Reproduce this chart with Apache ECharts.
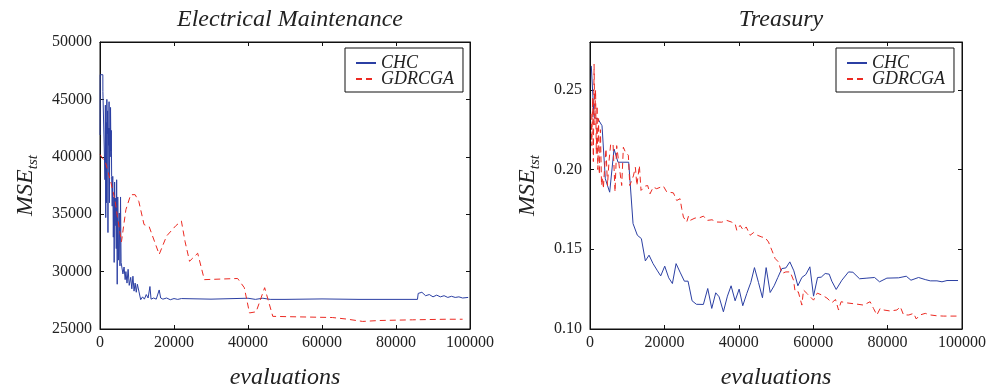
<!DOCTYPE html>
<html>
<head>
<meta charset="utf-8">
<script src="https://cdn.jsdelivr.net/npm/echarts@6/dist/echarts.min.js"></script>
<style>html,body{margin:0;padding:0;background:#fff;}#c{width:1000px;height:389px;}</style>
</head>
<body>
<div id="c"></div>
<script>
// ---- data ----
const titles = ['Electrical Maintenance', 'Treasury'];
const seriesNames = ['CHC', 'GDRCGA'];
const xTicksMax = 100000;

const chcElecX = [0,50,770,780,1300,1350,1450,1550,1650,1750,1850,1950,2050,2150,2250,2350,2450,2550,2650,2750,2850,2950,3050,3150,3300,3450,3600,3750,3830,3950,4100,4250,4400,4500,4650,4800,5000,5200,5400,5550,5700,5990,6200,6500,6800,7000,7300,7600,7900,8300,8600,8900,9200,9500,9800,10100,10500,11000,11500,12000,12500,13000,13500,13800,14500,15200,16000,16400,17000,18000,19000,20000,21000,22000,30000,40000,42000,44000,46000,50000,60000,70000,80000,85800,86000,87000,88000,89000,90000,91000,92000,93000,94000,95000,96000,97000,98000,99500];
const chcElecY = [41900,47150,47150,45700,45700,38000,44500,34700,43000,36000,45000,42000,44000,33400,42500,41000,44800,36000,42500,40000,44300,40500,42300,38300,35700,38300,33000,36500,30800,37800,34000,36400,32000,38000,28900,36500,31000,35100,30500,36500,30800,30800,29800,30400,29300,30000,29000,30200,28800,29500,28500,29600,28300,29000,28200,28900,28300,27550,27800,27600,28000,27700,28700,27600,27700,27600,28400,27700,27600,27700,27550,27650,27580,27650,27600,27680,27580,27680,27580,27580,27620,27580,27580,27580,28100,28200,27900,28000,27800,27950,27800,27900,27750,27850,27750,27800,27700,27750];

const gdrElecX = [0,1500,3000,4000,4700,5800,7000,8300,9500,10500,11900,13300,14200,16000,18000,20500,22000,23000,24200,26400,28200,37200,39000,40400,42200,44500,46700,62800,66500,71000,75500,84500,93500,98000];
const gdrElecY = [40200,39500,37700,36300,34800,32600,35400,36700,36700,36100,34100,33900,33100,31500,33100,34000,34400,32600,30900,31600,29300,29400,28600,26400,26500,28600,26100,26000,25870,25660,25740,25800,25850,25850];

const chcTreaX = [350,1080,2150,3230,4120,5290,6460,7530,10400,11570,12730,13810,14880,15870,16950,18030,19010,20090,21160,22150,23140,24300,25370,26360,27440,28600,30480,31650,32730,33800,34700,35860,36940,37930,39010,40090,41070,42150,43230,44210,45290,46360,47350,48430,49500,50490,51570,52650,53720,54800,55880,56950,58030,59110,60090,61170,62150,63220,64300,65000,66180,67710,69500,70670,72460,74440,76500,77830,79810,82950,85020,86280,88320,90120,91470,93270,94620,95970,98930];
const chcTreaY = [0.265,0.2327,0.2317,0.2275,0.1942,0.1858,0.2129,0.2046,0.2046,0.1661,0.1588,0.1567,0.1427,0.1463,0.1410,0.1369,0.1333,0.1394,0.1321,0.1285,0.1410,0.1352,0.1300,0.1300,0.1177,0.1155,0.1154,0.1254,0.1129,0.1227,0.1202,0.1108,0.1206,0.1271,0.1177,0.1250,0.1146,0.1223,0.1292,0.1385,0.1292,0.1196,0.1385,0.1229,0.1271,0.1323,0.1379,0.1383,0.1421,0.1365,0.1271,0.1323,0.1342,0.1390,0.1206,0.1323,0.1325,0.1348,0.1344,0.1300,0.1248,0.1306,0.1358,0.1356,0.1315,0.1319,0.1323,0.1296,0.1319,0.1321,0.1331,0.1306,0.1323,0.1310,0.1302,0.1302,0.1296,0.1304,0.1304];

const gdrTreaX = [300,500,700,900,1100,1300,1500,1700,1900,2100,2300,2500,2800,3100,3400,3590,3900,4300,4700,5100,5560,6200,6730,7170,7700,8520,8970,9500,10310,10700,11660,12200,12600,13270,13720,14800,15500,16140,17000,17930,19000,19720,20620,22410,23310,24210,24660,25110,26000,26450,26900,28250,29300,30490,31500,32800,34080,35400,36770,38000,39010,39460,40350,41200,42000,43040,44000,45000,46190,47080,47980,48880,49770,50670,51570,52650,53810,54710,55150,56000,56950,57400,58500,60090,61100,62330,63700,65020,66000,66810,67500,69300,71750,73500,75300,76210,77120,78000,79000,80710,82500,83400,84300,85700,87000,87700,88700,90120,91500,93200,95000,98660];
const gdrTreaY = [0.235,0.215,0.245,0.205,0.266,0.228,0.250,0.210,0.240,0.200,0.232,0.197,0.225,0.190,0.195,0.188,0.200,0.213,0.190,0.205,0.216,0.216,0.186,0.215,0.205,0.190,0.214,0.211,0.209,0.190,0.196,0.2014,0.190,0.2025,0.1869,0.1896,0.1900,0.1848,0.1890,0.1880,0.1890,0.1896,0.1860,0.1854,0.1806,0.1817,0.1754,0.1702,0.1671,0.1706,0.1681,0.1696,0.1696,0.1708,0.1681,0.1685,0.1671,0.1670,0.1681,0.1671,0.1660,0.1619,0.1650,0.1620,0.1640,0.1588,0.1605,0.1588,0.1577,0.1573,0.1546,0.1494,0.1442,0.1420,0.1348,0.1358,0.1358,0.1306,0.1233,0.1233,0.1150,0.1244,0.1219,0.1181,0.1225,0.1213,0.1194,0.1165,0.1185,0.1119,0.1171,0.1163,0.1156,0.1150,0.1171,0.1129,0.1088,0.1129,0.1119,0.1113,0.1119,0.1140,0.1088,0.1088,0.1098,0.1063,0.1088,0.1098,0.1088,0.1083,0.1081,0.1081];

// ---- chart ----
const zip = (xs, ys) => xs.map((x, i) => [x, ys[i]]);
const FONT = 'Liberation Serif';
const TXT = '#222';
const BLUE = '#2b3fa3';
const RED = '#ec2a22';

function xAx(grid, top) {
  return {
    type: 'value', gridIndex: grid, position: top ? 'top' : 'bottom',
    min: 0, max: xTicksMax, interval: 20000,
    axisLine: { show: true, onZero: false, lineStyle: { color: '#111', width: 1 } },
    axisTick: { show: true, inside: true, length: 4, lineStyle: { color: '#111' } },
    axisLabel: { show: !top, margin: 6, fontFamily: FONT, fontSize: 16, color: TXT, formatter: v => String(v) },
    splitLine: { show: false },
    name: top ? '' : 'evaluations', nameLocation: 'middle', nameGap: 37,
    nameTextStyle: { fontFamily: FONT, fontStyle: 'italic', fontSize: 24, color: TXT }
  };
}
function yAx(grid, right, min, max, interval, fmt, showMax, gap) {
  return {
    type: 'value', gridIndex: grid, position: right ? 'right' : 'left',
    min: min, max: max, interval: interval,
    axisLine: { show: true, onZero: false, lineStyle: { color: '#111', width: 1 } },
    axisTick: { show: true, inside: true, length: 4, lineStyle: { color: '#111' } },
    axisLabel: { show: !right, margin: 8, fontFamily: FONT, fontSize: 16, color: TXT, showMaxLabel: showMax, formatter: fmt },
    splitLine: { show: false },
    name: right ? '' : '{m|MSE}{s|tst}', nameLocation: 'middle', nameGap: gap, nameRotate: 90,
    nameTextStyle: {
      rich: {
        m: { fontFamily: FONT, fontStyle: 'italic', fontSize: 24, color: TXT, lineHeight: 22, verticalAlign: 'top' },
        s: { fontFamily: FONT, fontStyle: 'italic', fontSize: 15, color: TXT, lineHeight: 14, padding: [12, 0, 0, 0], verticalAlign: 'top' }
      }
    }
  };
}
function legend(left, top, names) {
  return {
    orient: 'vertical', left: left, top: top,
    data: names,
    backgroundColor: '#fff', borderColor: '#111', borderWidth: 1,
    padding: [6, 9, 4, 10], itemGap: -2, itemWidth: 20, itemHeight: 14,
    itemStyle: { color: 'transparent', borderColor: 'transparent', borderWidth: 0, opacity: 0 },
    textStyle: { fontFamily: FONT, fontStyle: 'italic', fontSize: 18, color: TXT, lineHeight: 16 }
  };
}
function line(name, data, xi, yi, color, dashed) {
  return {
    type: 'line', name: name, data: data, xAxisIndex: xi, yAxisIndex: yi,
    showSymbol: false, symbol: 'none', animation: false,
    lineStyle: { color: color, width: 1, type: dashed ? [6, 4] : 'solid' },
    itemStyle: { color: color }
  };
}

const chart = echarts.init(document.getElementById('c'), null, { renderer: 'canvas' });
chart.setOption({
  animation: false,
  backgroundColor: '#fff',
  title: [
    { text: titles[0], left: 285, top: 3, textAlign: 'center', textStyle: { fontFamily: FONT, fontStyle: 'italic', fontWeight: 'normal', fontSize: 24, color: TXT } },
    { text: titles[1], left: 776, top: 3, textAlign: 'center', textStyle: { fontFamily: FONT, fontStyle: 'italic', fontWeight: 'normal', fontSize: 24, color: TXT } }
  ],
  legend: [legend(345, 48, seriesNames), legend(836, 48, seriesNames)],
  grid: [
    { left: 100, top: 42, width: 370, height: 287, show: true, borderColor: '#111', borderWidth: 1, containLabel: false, outerBoundsMode: 'none' },
    { left: 590, top: 42, width: 372, height: 287, show: true, borderColor: '#111', borderWidth: 1, containLabel: false, outerBoundsMode: 'none' }
  ],
  xAxis: [xAx(0, false), xAx(0, true), xAx(1, false), xAx(1, true)],
  yAxis: [
    yAx(0, false, 25000, 50000, 5000, v => String(v), true, 64),
    yAx(0, true, 25000, 50000, 5000, v => String(v), true, 64),
    yAx(1, false, 0.1, 0.28, 0.05, v => v.toFixed(2), false, 52),
    yAx(1, true, 0.1, 0.28, 0.05, v => v.toFixed(2), false, 52)
  ],
  series: [
    line(seriesNames[0], zip(chcElecX, chcElecY), 0, 0, BLUE, false),
    line(seriesNames[1], zip(gdrElecX, gdrElecY), 0, 0, RED, true),
    line(seriesNames[0], zip(chcTreaX, chcTreaY), 2, 2, BLUE, false),
    line(seriesNames[1], zip(gdrTreaX, gdrTreaY), 2, 2, RED, true)
  ]
});
</script>
</body>
</html>
